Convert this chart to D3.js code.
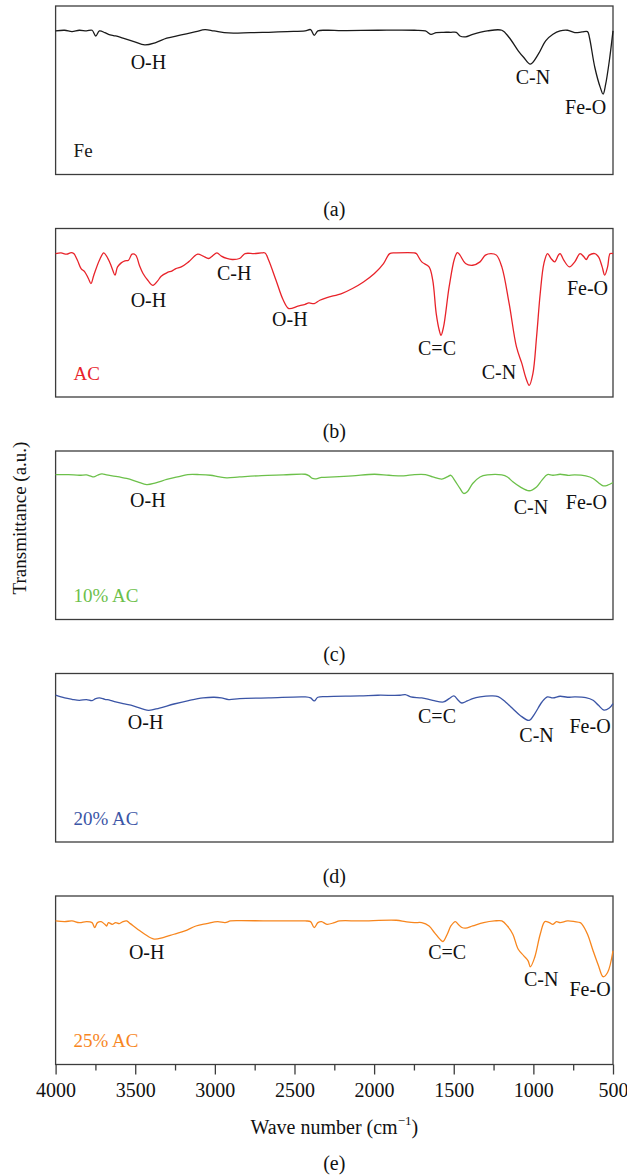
<!DOCTYPE html>
<html>
<head>
<meta charset="utf-8">
<script src="https://cdn.jsdelivr.net/npm/d3@7"></script>
<style>
    body { margin: 0; background: #fff; }
    svg { display: block; font-family: "Liberation Serif", "DejaVu Serif", serif; }
</style>
</head>
<body>
<div id="chart"></div>
<script>
//Datos: [número de onda (cm-1), transmitancia (u.a.)]
const feSpectrum = [[4000,85.2],[3943,85.6],[3897,84.8],[3851,85.6],[3806,85.2],[3771,85.6],[3748,82.2],[3725,85.2],[3691,84.2],[3668,83.2],[3623,82.2],[3577,80.9],[3508,78.9],[3440,76.9],[3371,78.3],[3302,80.9],[3211,82.8],[3119,84.8],[3062,86.0],[3005,85.2],[2913,84.0],[2776,84.2],[2662,84.4],[2547,84.8],[2433,85.2],[2399,86.0],[2376,82.6],[2353,85.2],[2296,85.6],[2204,85.4],[1976,85.6],[1747,85.6],[1678,85.2],[1644,83.2],[1610,84.2],[1564,84.4],[1518,84.4],[1484,84.4],[1461,82.2],[1426,81.7],[1381,83.2],[1289,85.2],[1198,85.6],[1152,81.3],[1095,73.4],[1060,69.4],[1019,65.5],[969,71.4],[923,79.3],[877,83.2],[832,85.2],[786,85.6],[740,84.2],[694,84.6],[660,84.8],[648,81.3],[614,63.5],[580,51.7],[562,47.7],[546,53.6],[523,67.5],[500,85.2]];

const acSpectrum = [[4000,85.1],[3966,85.5],[3931,84.8],[3902,85.7],[3886,85.1],[3863,81.2],[3840,76.2],[3817,74.3],[3794,70.3],[3778,67.3],[3760,72.3],[3725,81.2],[3698,85.5],[3680,83.6],[3657,79.2],[3641,75.2],[3627,72.3],[3611,77.2],[3588,79.6],[3565,80.8],[3542,81.2],[3520,84.8],[3497,84.2],[3474,78.2],[3451,73.3],[3421,69.3],[3389,66.3],[3359,68.9],[3337,71.7],[3302,73.7],[3268,74.9],[3245,76.2],[3211,77.2],[3165,80.2],[3108,84.8],[3074,83.6],[3039,82.2],[3016,83.6],[2987,85.5],[2959,83.6],[2925,82.2],[2891,81.6],[2845,82.2],[2810,85.1],[2753,85.1],[2708,85.5],[2685,85.5],[2662,81.2],[2616,69.3],[2570,57.4],[2536,52.5],[2479,53.9],[2433,55.0],[2410,55.8],[2376,55.4],[2341,57.4],[2296,59.0],[2204,61.4],[2136,64.4],[2067,68.3],[1998,73.3],[1941,79.2],[1902,85.1],[1861,85.5],[1747,85.5],[1735,85.1],[1701,80.2],[1655,77.2],[1632,69.3],[1610,49.5],[1591,39.6],[1580,36.6],[1564,41.6],[1529,65.3],[1495,82.2],[1477,85.7],[1461,84.2],[1426,79.2],[1381,78.2],[1335,80.2],[1301,84.2],[1266,85.1],[1232,84.2],[1198,77.2],[1152,55.4],[1106,29.7],[1072,19.8],[1049,11.9],[1026,6.9],[1003,13.9],[980,35.6],[957,61.4],[934,79.2],[911,85.1],[889,82.2],[866,80.2],[843,84.2],[832,85.1],[809,81.2],[774,77.2],[740,80.2],[707,85.1],[683,83.2],[668,81.6],[649,84.2],[614,85.1],[591,83.2],[568,77.2],[552,72.3],[534,77.2],[518,85.1],[500,85.1]];

const ac10Spectrum = [[4000,86.0],[3920,86.0],[3851,85.6],[3806,85.8],[3783,85.2],[3760,84.6],[3737,85.6],[3709,86.4],[3680,85.8],[3623,85.0],[3554,83.7],[3485,81.7],[3428,80.1],[3371,81.1],[3302,83.1],[3234,84.6],[3170,86.0],[3096,86.0],[3028,85.6],[2971,84.6],[2925,84.1],[2845,84.6],[2707,85.4],[2570,85.8],[2433,86.2],[2410,85.4],[2387,83.7],[2364,83.5],[2330,84.3],[2250,84.6],[2136,85.2],[1998,86.2],[1907,85.6],[1815,85.2],[1747,86.0],[1678,86.0],[1632,84.6],[1575,83.3],[1541,84.6],[1518,85.6],[1495,82.7],[1461,77.8],[1438,74.8],[1415,75.8],[1381,80.7],[1335,84.6],[1289,85.8],[1198,85.8],[1163,84.6],[1129,81.7],[1083,78.7],[1026,76.4],[980,78.7],[946,82.7],[912,86.0],[877,85.6],[832,86.2],[786,85.6],[740,85.8],[671,85.2],[625,83.7],[591,81.1],[562,79.3],[534,79.7],[500,81.3]];

const ac20Spectrum = [[4000,87.1],[3943,85.5],[3897,84.7],[3851,84.1],[3806,84.5],[3771,83.9],[3748,85.1],[3725,85.5],[3691,84.7],[3657,84.1],[3623,83.1],[3577,82.1],[3508,80.7],[3417,78.1],[3348,79.5],[3257,81.9],[3165,83.9],[3074,85.5],[3005,85.9],[2959,85.5],[2913,84.5],[2845,85.1],[2662,85.5],[2433,86.1],[2399,85.5],[2376,83.7],[2353,85.9],[2296,86.3],[2090,86.7],[1976,87.1],[1838,87.1],[1804,87.5],[1770,86.1],[1701,85.5],[1632,84.1],[1564,83.1],[1529,85.1],[1499,86.7],[1472,84.1],[1449,82.5],[1415,83.7],[1381,85.1],[1335,86.1],[1266,86.7],[1221,86.3],[1175,83.1],[1129,79.1],[1083,75.1],[1026,72.2],[992,76.1],[946,83.1],[912,86.1],[877,85.5],[832,86.5],[786,85.9],[740,86.1],[671,85.7],[625,84.1],[591,81.1],[557,78.3],[523,79.5],[500,82.1]];

const ac25Spectrum = [[4000,85.2],[3943,84.8],[3897,85.2],[3851,84.2],[3806,84.8],[3771,84.2],[3755,81.3],[3737,84.2],[3714,84.8],[3691,83.2],[3680,82.2],[3668,84.2],[3645,83.2],[3623,84.2],[3600,83.6],[3577,84.8],[3554,85.2],[3531,83.6],[3485,80.3],[3440,77.3],[3382,74.4],[3325,75.3],[3257,77.3],[3188,79.3],[3119,82.2],[3051,83.6],[2982,84.8],[2936,84.2],[2902,85.2],[2845,85.4],[2662,85.2],[2433,85.2],[2399,84.8],[2376,81.3],[2353,84.2],[2330,84.8],[2296,83.2],[2250,84.2],[2216,85.2],[2090,85.2],[1861,85.6],[1804,84.8],[1747,84.2],[1701,84.2],[1655,82.2],[1621,78.3],[1587,74.4],[1568,73.0],[1541,77.3],[1518,82.2],[1490,84.8],[1472,83.2],[1449,81.3],[1426,80.9],[1381,82.2],[1312,84.2],[1244,85.2],[1198,85.2],[1163,82.2],[1129,77.3],[1095,68.4],[1060,64.5],[1033,61.5],[1019,58.0],[992,63.5],[957,77.3],[928,84.8],[900,84.2],[877,83.2],[855,84.8],[832,84.2],[786,85.2],[740,84.8],[706,84.2],[694,83.2],[660,77.3],[625,67.5],[591,58.6],[562,52.1],[534,54.6],[500,67.5]];

//Etiquetas de bandas: [texto, número de onda, transmitancia]
const feBands = [['O-H',3417,66.5],['C-N',1003,57.6],['Fe-O',672,40.2]];
const acBands = [['O-H',3417,57.4],['C-H',2879,73.7],['O-H',2529,46.5],['C=C',1605,29.1],['C-N',1216,14.9],['Fe-O',660,64.4]];
const ac10Bands = [['O-H',3421,70.9],['C-N',1015,66.9],['Fe-O',667,69.9]];
const ac20Bands = [['O-H',3435,71.2],['C=C',1605,74.8],['C-N',980,63.6],['Fe-O',644,68.8]];
const ac25Bands = [['O-H',3428,66.5],['C=C',1541,66.5],['C-N',951,50.7],['Fe-O',644,44.8]];

const sampleNames = ['Fe','AC','10% AC','20% AC','25% AC'];
const panelLetters = ['(a)','(b)','(c)','(d)','(e)'];
const sampleColors = ['#1a1a1a','#e8232a','#6cc04a','#3b55a6','#f7861e'];
const spectra = [feSpectrum, acSpectrum, ac10Spectrum, ac20Spectrum, ac25Spectrum];
const bands = [feBands, acBands, ac10Bands, ac20Bands, ac25Bands];

const majorTicks = [4000,3500,3000,2500,2000,1500,1000,500];
const minorTicks = [3750,3250,2750,2250,1750,1250,750];

//Tamaños
const W = 627, H = 1175;
const left = 55.6, right = 613;
const firstTop = 6, panelStep = 222.5, panelHeight = 168.5;
const FONT = 20;

let svg = d3.select('#chart').append('svg')
    .attr('width', W)
    .attr('height', H);

let x = d3.scaleLinear()
    .domain([4000, 500])
    .range([left, right]);

sampleNames.forEach(function(name, i) {
    let top = firstTop + i * panelStep;
    let bottom = top + panelHeight;

    let y = d3.scaleLinear()
        .domain([0, 100])
        .range([bottom, top]);

    let g = svg.append('g');

    //Marco
    g.append('rect')
        .attr('x', left)
        .attr('y', top)
        .attr('width', right - left)
        .attr('height', panelHeight)
        .attr('fill', 'none')
        .attr('stroke', '#3c3c3c')
        .attr('stroke-width', 1.3);

    //Espectro
    let line = d3.line()
        .x(function(d) { return x(d[0]); })
        .y(function(d) { return y(d[1]); })
        .curve(d3.curveCatmullRom.alpha(0.5));

    g.append('path')
        .datum(spectra[i])
        .attr('d', line)
        .attr('fill', 'none')
        .attr('stroke', sampleColors[i])
        .attr('stroke-width', 1.3);

    //Bandas
    g.selectAll('.band')
        .data(bands[i])
        .enter()
        .append('text')
        .attr('class', 'band')
        .attr('x', function(d) { return x(d[1]); })
        .attr('y', function(d) { return y(d[2]); })
        .attr('text-anchor', 'middle')
        .attr('dominant-baseline', 'central')
        .attr('font-size', FONT)
        .attr('fill', '#111')
        .text(function(d) { return d[0]; });

    //Nombre de la muestra
    g.append('text')
        .attr('x', left + 18)
        .attr('y', y(14))
        .attr('dominant-baseline', 'central')
        .attr('font-size', FONT - 1)
        .attr('fill', sampleColors[i])
        .text(name);

    //Letra del panel
    let letterY = i == sampleNames.length - 1 ? 1163 : bottom + 34;
    g.append('text')
        .attr('x', (left + right) / 2)
        .attr('y', letterY)
        .attr('text-anchor', 'middle')
        .attr('dominant-baseline', 'central')
        .attr('font-size', FONT)
        .attr('fill', '#111')
        .text(panelLetters[i]);

    //Eje X sólo en el último panel
    if (i == sampleNames.length - 1) {
        let axis = g.append('g')
            .attr('transform', 'translate(0,' + bottom + ')')
            .call(d3.axisBottom(x).tickValues(majorTicks).tickSize(10).tickPadding(8).tickFormat(d3.format('d')));
        axis.select('.domain').remove();
        axis.selectAll('.tick line').attr('stroke', '#3c3c3c').attr('stroke-width', 1.3);
        axis.selectAll('.tick text')
            .attr('font-family', '"Liberation Serif", serif')
            .attr('font-size', FONT)
            .attr('fill', '#111');

        let minor = g.append('g')
            .attr('transform', 'translate(0,' + bottom + ')')
            .call(d3.axisBottom(x).tickValues(minorTicks).tickSize(6).tickFormat(''));
        minor.select('.domain').remove();
        minor.selectAll('.tick line').attr('stroke', '#3c3c3c').attr('stroke-width', 1.3);

        let xLabel = g.append('text')
            .attr('x', (left + right) / 2)
            .attr('y', 1127)
            .attr('text-anchor', 'middle')
            .attr('dominant-baseline', 'central')
            .attr('font-size', FONT)
            .attr('fill', '#111');
        xLabel.append('tspan').text('Wave number (cm');
        xLabel.append('tspan').attr('font-size', 13).attr('dy', -7).text('\u22121');
        xLabel.append('tspan').attr('dy', 7).text(')');
    }
});

//Título eje Y
svg.append('text')
    .attr('transform', 'translate(19,518) rotate(-90)')
    .attr('text-anchor', 'middle')
    .attr('dominant-baseline', 'central')
    .attr('font-size', 19)
    .attr('fill', '#111')
    .text('Transmittance (a.u.)');
</script>
</body>
</html>
